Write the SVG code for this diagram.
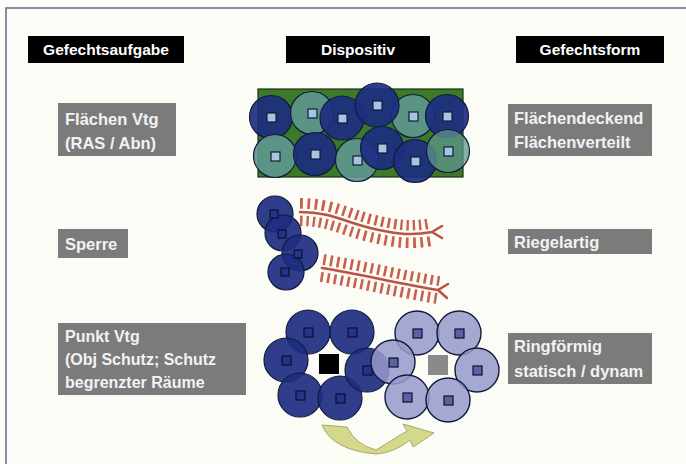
<svg xmlns="http://www.w3.org/2000/svg" width="686" height="464" viewBox="0 0 686 464">
<style>
.hdr{fill:#000}
.hdrt{font-family:"Liberation Sans",Arial,sans-serif;font-weight:bold;font-size:15.5px;fill:#fff;text-anchor:middle}
.lbl{fill:#7b7b7b}
.lblt{font-family:"Liberation Sans",Arial,sans-serif;font-weight:bold;font-size:16.5px;fill:#f2f2f2}
.blue{fill:#1d2c80;stroke:#141a3c;stroke-width:1.2;fill-opacity:0.92}
.teal{fill:#5e968f;stroke:#141a3c;stroke-width:1.2;fill-opacity:0.9}
.lav{fill:#959acb;stroke:#141a3c;stroke-width:1.4;fill-opacity:0.85}
.sq{fill:#a6c6de;stroke:#141a3c;stroke-width:1.2}
.sqb{fill:#243488;stroke:#0c1030;stroke-width:1.2}
.sql{fill:#5a62a6;stroke:#0c1030;stroke-width:1.2}
.ticks{fill:none;stroke:#c8604c;stroke-width:28;stroke-dasharray:2.6 4.2}
.gap{fill:none;stroke:#fcfcf6;stroke-width:7}
.ctr{fill:none;stroke:#bd5242;stroke-width:2.6;stroke-linecap:round}
</style>
<rect x="0" y="0" width="686" height="464" fill="#fcfcf6"/>
<path d="M6 464 L6 8 L686 8" fill="none" stroke="#66688a" stroke-width="1.5"/>

<g id="hdr-gefechtsaufgabe"><rect class="hdr" x="28" y="36" width="156" height="27"/><text class="hdrt" x="106" y="55">Gefechtsaufgabe</text></g>
<g id="hdr-dispositiv"><rect class="hdr" x="286" y="36" width="144" height="27"/><text class="hdrt" x="358" y="55">Dispositiv</text></g>
<g id="hdr-gefechtsform"><rect class="hdr" x="516" y="36" width="148" height="27"/><text class="hdrt" x="590" y="55">Gefechtsform</text></g>

<g id="lbl-flaechen"><rect class="lbl" x="58" y="103" width="118" height="53"/><text class="lblt" x="65" y="125">Flächen Vtg</text><text class="lblt" x="65" y="149">(RAS / Abn)</text></g>
<g id="lbl-sperre"><rect class="lbl" x="58" y="229" width="70" height="29"/><text class="lblt" x="65" y="250">Sperre</text></g>
<g id="lbl-punkt"><rect class="lbl" x="58" y="323" width="188" height="72"/><text class="lblt" x="65" y="342" style="font-size:16px">Punkt Vtg</text><text class="lblt" x="65" y="365" style="font-size:16px">(Obj Schutz; Schutz</text><text class="lblt" x="65" y="388" style="font-size:16px">begrenzter Räume</text></g>

<g id="lbl-flaechendeckend"><rect class="lbl" x="508" y="104" width="144" height="52"/><text class="lblt" x="514" y="124">Flächendeckend</text><text class="lblt" x="514" y="148">Flächenverteilt</text></g>
<g id="lbl-riegelartig"><rect class="lbl" x="508" y="229" width="144" height="25"/><text class="lblt" x="514" y="248">Riegelartig</text></g>
<g id="lbl-ringfoermig"><rect class="lbl" x="508" y="333" width="144" height="51"/><text class="lblt" x="514" y="352">Ringförmig</text><text class="lblt" x="514" y="377">statisch / dynam</text></g>

<g id="disp-flaechen">
<rect x="258" y="89" width="205" height="88" fill="#3c7a2a" stroke="#1a3014" stroke-width="1.2"/>
<circle class="blue" cx="271" cy="117" r="21.5"/>
<circle class="teal" cx="312" cy="113" r="21.5"/>
<circle class="teal" cx="413" cy="116" r="21.5"/>
<circle class="blue" cx="342" cy="118" r="22"/>
<circle class="blue" cx="377" cy="105" r="22"/>
<circle class="blue" cx="447" cy="116" r="21.5"/>
<circle class="teal" cx="275" cy="156" r="21.5"/>
<circle class="blue" cx="315" cy="154" r="21.5"/>
<circle class="teal" cx="357" cy="160" r="21.5"/>
<circle class="blue" cx="382" cy="148" r="21.5"/>
<circle class="blue" cx="415" cy="161" r="21.5"/>
<circle class="teal" cx="448" cy="151" r="21.5" style="fill-opacity:0.75"/>
<rect class="sq" x="267" y="113" width="9" height="9"/>
<rect class="sq" x="308" y="109" width="9" height="9"/>
<rect class="sq" x="338" y="114" width="9" height="9"/>
<rect class="sq" x="373" y="101" width="9" height="9"/>
<rect class="sq" x="409" y="112" width="9" height="9"/>
<rect class="sq" x="443" y="112" width="9" height="9"/>
<rect class="sq" x="271" y="152" width="9" height="9"/>
<rect class="sq" x="311" y="150" width="9" height="9"/>
<rect class="sq" x="353" y="156" width="9" height="9"/>
<rect class="sq" x="378" y="144" width="9" height="9"/>
<rect class="sq" x="411" y="157" width="9" height="9"/>
<rect class="sq" x="444" y="147" width="9" height="9"/>
</g>

<g id="disp-sperre">
<path class="ticks" d="M300 212 C330 212 345 222 370 228 S410 236 432 232"/>
<path class="ticks" d="M322 268 C360 274 400 284 438 290"/>
<path class="gap" d="M296 212 C330 212 345 222 370 228 S410 236 436 232"/>
<path class="gap" d="M318 268 C360 274 400 284 442 290"/>
<path class="ctr" d="M300 212 C330 212 345 222 370 228 S410 236 432 232 M432 232 L442 226 M432 232 L442 238"/>
<path class="ctr" d="M322 268 C360 274 400 284 438 290 M438 290 L448 284 M438 290 L447 298"/>
<circle class="blue" cx="275" cy="214" r="18"/>
<circle class="blue" cx="283" cy="233" r="18"/>
<circle class="blue" cx="300" cy="253" r="18"/>
<circle class="blue" cx="286" cy="272" r="18"/>
<rect class="sqb" x="270" y="210" width="8" height="8"/>
<rect class="sqb" x="278" y="230" width="8" height="8"/>
<rect class="sqb" x="294" y="250" width="8" height="8"/>
<rect class="sqb" x="281" y="268" width="8" height="8"/>
</g>

<g id="disp-ring-blue">
<circle class="blue" cx="308" cy="332" r="22"/>
<circle class="blue" cx="352" cy="332" r="22"/>
<circle class="blue" cx="286" cy="360" r="22"/>
<circle class="blue" cx="300" cy="395" r="22"/>
<circle class="blue" cx="340" cy="398" r="22"/>
<circle class="blue" cx="367" cy="370" r="22"/>
<rect class="sqb" x="304" y="328" width="9" height="9"/>
<rect class="sqb" x="348" y="328" width="9" height="9"/>
<rect class="sqb" x="282" y="356" width="9" height="9"/>
<rect class="sqb" x="296" y="391" width="9" height="9"/>
<rect class="sqb" x="336" y="394" width="9" height="9"/>
<rect class="sqb" x="363" y="366" width="9" height="9"/>
<rect x="319" y="354" width="20" height="20" fill="#000"/>
</g>

<g id="disp-ring-light">
<circle class="lav" cx="417" cy="333" r="22"/>
<circle class="lav" cx="459" cy="333" r="22"/>
<circle class="lav" cx="393" cy="362" r="22"/>
<circle class="lav" cx="477" cy="370" r="22"/>
<circle class="lav" cx="407" cy="397" r="22"/>
<circle class="lav" cx="448" cy="400" r="22"/>
<rect class="sql" x="413" y="329" width="9" height="9"/>
<rect class="sql" x="455" y="329" width="9" height="9"/>
<rect class="sql" x="389" y="358" width="9" height="9"/>
<rect class="sql" x="473" y="366" width="9" height="9"/>
<rect class="sql" x="403" y="393" width="9" height="9"/>
<rect class="sql" x="444" y="396" width="9" height="9"/>
<rect x="428" y="355" width="20" height="20" fill="#8a8a8a"/>
</g>

<g id="connectors">
<path d="M322 425 L347 427 Q356 445 376 450 Q392 440 407 431 L403 424 L434 433 L413 447 L410 440 Q394 453 376 454 Q332 450 322 425 Z" fill="#d4d88a" stroke="#a8aa66" stroke-width="1"/>
</g>
</svg>
